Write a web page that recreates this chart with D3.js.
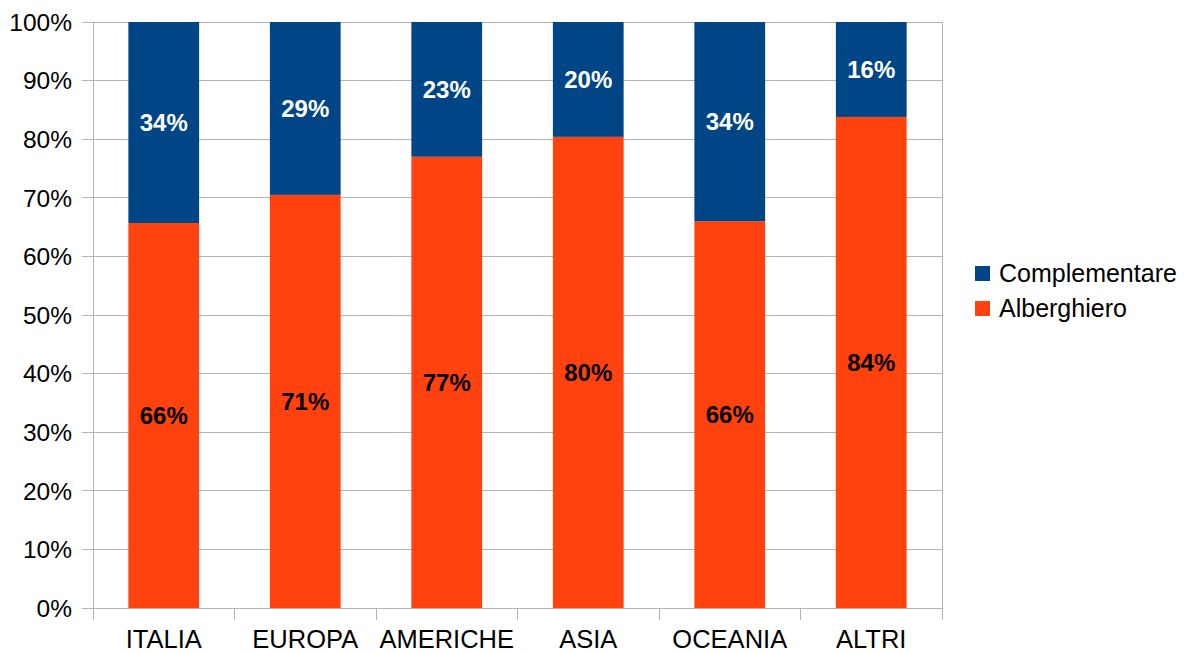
<!DOCTYPE html>
<html><head><meta charset="utf-8">
<script src="https://cdn.jsdelivr.net/npm/d3@7"></script>
<style>body{margin:0;background:#fff}svg{display:block}text{font-family:"Liberation Sans",Arial,sans-serif}</style>
</head><body><svg id="c" width="1186" height="652"></svg>
<script>
const categories = ["ITALIA","EUROPA","AMERICHE","ASIA","OCEANIA","ALTRI"];
const alberghiero = [65.7, 70.5, 77.0, 80.4, 66.0, 83.8];
const complementare = [34.3, 29.5, 23.0, 19.6, 34.0, 16.2];
const albLabels = ["66%","71%","77%","80%","66%","84%"];
const compLabels = ["34%","29%","23%","20%","34%","16%"];
const yTicks = [0,10,20,30,40,50,60,70,80,90,100];
const seriesNames = ["Complementare","Alberghiero"];
const colors = {Complementare:"#004586", Alberghiero:"#ff420e"};

const svg = d3.select("#c");
const L=93, R=942, T=22, B=608;
const x = d3.scaleBand().domain(categories).range([L,R]).paddingInner(0.5).paddingOuter(0.25);
const y = d3.scaleLinear().domain([0,100]).range([B,T]);
const grid="#b3b3b3";

svg.append("g").selectAll("line").data(yTicks).join("line")
  .attr("x1",L-11).attr("x2",R).attr("y1",d=>y(d)).attr("y2",d=>y(d))
  .attr("stroke",grid).attr("stroke-width",1).attr("shape-rendering","crispEdges");
svg.append("line").attr("x1",L).attr("x2",L).attr("y1",T).attr("y2",B)
  .attr("stroke",grid).attr("shape-rendering","crispEdges");
svg.append("line").attr("x1",R).attr("x2",R).attr("y1",T).attr("y2",B+12)
  .attr("stroke",grid).attr("shape-rendering","crispEdges");
const step = x.step();
const bounds = d3.range(categories.length+1).map(i=>L+i*step);
svg.append("g").selectAll("line").data(bounds).join("line")
  .attr("x1",d=>d).attr("x2",d=>d).attr("y1",B).attr("y2",B+12)
  .attr("stroke",grid).attr("shape-rendering","crispEdges");

svg.append("g").selectAll("text").data(yTicks).join("text")
  .attr("x",72).attr("y",d=>y(d)).attr("dy","0.36em").attr("text-anchor","end")
  .attr("font-size",24.5).attr("fill","#000").text(d=>d+"%");
svg.append("g").selectAll("text").data(categories).join("text")
  .attr("x",d=>x(d)+x.bandwidth()/2).attr("y",648).attr("text-anchor","middle")
  .attr("font-size",25.5).attr("fill","#000").text(d=>d);

const data = categories.map((c,i)=>({c, a:alberghiero[i], k:complementare[i], al:albLabels[i], kl:compLabels[i]}));
const g = svg.append("g");
g.selectAll("rect.a").data(data).join("rect").attr("class","a")
  .attr("x",d=>x(d.c)).attr("width",x.bandwidth())
  .attr("y",d=>y(d.a)).attr("height",d=>y(0)-y(d.a)).attr("fill",colors.Alberghiero);
g.selectAll("rect.k").data(data).join("rect").attr("class","k")
  .attr("x",d=>x(d.c)).attr("width",x.bandwidth())
  .attr("y",d=>y(d.a+d.k)).attr("height",d=>y(d.a)-y(d.a+d.k)).attr("fill",colors.Complementare);
g.selectAll("text.a").data(data).join("text").attr("class","a")
  .attr("x",d=>x(d.c)+x.bandwidth()/2).attr("y",d=>y(d.a/2)).attr("dy","0.36em")
  .attr("text-anchor","middle").attr("font-size",24).attr("font-weight","bold").attr("fill","#000")
  .text(d=>d.al);
g.selectAll("text.k").data(data).join("text").attr("class","k")
  .attr("x",d=>x(d.c)+x.bandwidth()/2).attr("y",d=>y(d.a+d.k/2)).attr("dy","0.36em")
  .attr("text-anchor","middle").attr("font-size",24).attr("font-weight","bold").attr("fill","#fff")
  .text(d=>d.kl);

const lg = svg.append("g");
seriesNames.forEach((s,i)=>{
  const yy = 273 + i*35;
  lg.append("rect").attr("x",975).attr("y",yy-7).attr("width",15).attr("height",15).attr("fill",colors[s]);
  lg.append("text").attr("x",999).attr("y",yy).attr("dy","0.36em").attr("font-size",25).attr("fill","#000").text(s);
});
</script></body></html>
